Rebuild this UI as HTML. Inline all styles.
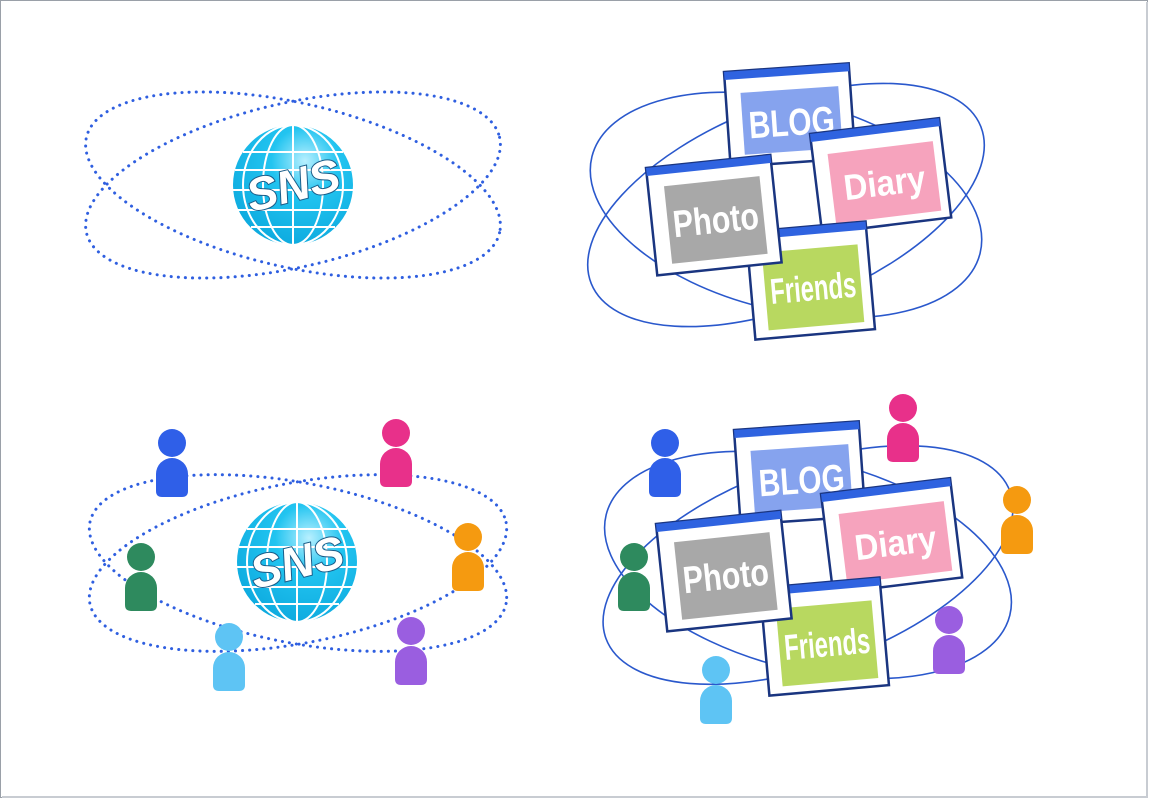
<!DOCTYPE html>
<html><head><meta charset="utf-8"><style>
html,body{margin:0;padding:0;background:#fff;}
svg{display:block}
text{font-family:"Liberation Sans",sans-serif;font-weight:bold;fill:#fff}
</style></head><body>
<svg width="1149" height="799" viewBox="0 0 1149 799" xmlns="http://www.w3.org/2000/svg">
<defs>
<radialGradient id="gl" cx="0.6" cy="0.3" r="0.8">
<stop offset="0" stop-color="#b8f0ff"/><stop offset="0.35" stop-color="#22c4f0"/><stop offset="1" stop-color="#0aa6dc"/>
</radialGradient>
<g id="globe">
<circle r="60" fill="url(#gl)"/>
<g fill="none" stroke="#fff" stroke-width="2">
<ellipse rx="30" ry="60"/><line x1="0" y1="-60" x2="0" y2="60"/>
<ellipse rx="50" ry="60"/>
<line x1="-58" y1="-15" x2="58" y2="-15"/><line x1="-60" y1="5" x2="60" y2="5"/>
<line x1="-56" y1="25" x2="56" y2="25"/><line x1="-50" y1="-33" x2="50" y2="-33"/>
<line x1="-42" y1="42" x2="42" y2="42"/>
</g>
<text x="0" y="16" text-anchor="middle" font-size="46" font-style="italic" transform="rotate(-14)" stroke="#1a5c88" stroke-width="2" style="paint-order:stroke">SNS</text>
</g>
<g id="pb"><circle cx="0" cy="0" r="14"/><path d="M-16 54 V31 A16 16 0 0 1 16 31 V48 Q16 54 10 54 H-10 Q-16 54 -16 48 Z"/></g>
</defs>
<rect x="0.5" y="0.5" width="1147" height="797" fill="#fff" stroke="#9aa0a8"/>
<line x1="1147" y1="2" x2="1147" y2="798" stroke="#c8ccd2" stroke-width="2"/>
<line x1="2" y1="797" x2="1148" y2="797" stroke="#c8ccd2" stroke-width="2"/>

<g fill="none" stroke="#2f5fe0" stroke-width="3" stroke-dasharray="0.1 7" stroke-linecap="round">
<ellipse cx="293" cy="185" rx="212" ry="82" transform="rotate(13 293 185)"/>
<ellipse cx="293" cy="185" rx="212" ry="82" transform="rotate(-13 293 185)"/>
<ellipse cx="298" cy="563" rx="212" ry="80" transform="rotate(11 298 563)"/>
<ellipse cx="298" cy="563" rx="212" ry="80" transform="rotate(-11 298 563)"/>
</g>
<use href="#globe" x="293" y="185"/>
<use href="#globe" x="297" y="562"/>

<g fill="none" stroke="#2a58cc" stroke-width="1.6">
<ellipse cx="786" cy="205" rx="210" ry="100" transform="rotate(-22 786 205)"/>
<ellipse cx="786" cy="205" rx="200" ry="105" transform="rotate(14 786 205)"/>
<ellipse cx="808" cy="565" rx="215" ry="100" transform="rotate(-20 808 565)"/>
<ellipse cx="808" cy="565" rx="208" ry="105" transform="rotate(14 808 565)"/>
</g>

<g stroke="#1a3580" stroke-width="2.5">
<g transform="translate(724,72) rotate(-4)"><rect width="125" height="95" fill="#fff"/><rect width="125" height="8" fill="#2f63e0" stroke="none"/><rect x="15" y="22" width="98" height="62" fill="#86a3ee" stroke="none"/><text x="64" y="68" font-size="38" text-anchor="middle" stroke="none" textLength="86" lengthAdjust="spacingAndGlyphs">BLOG</text></g>
<g transform="translate(810,134) rotate(-7)"><rect width="130" height="100" fill="#fff"/><rect width="130" height="8" fill="#2f63e0" stroke="none"/><rect x="15" y="22" width="106" height="70" fill="#f6a3bd" stroke="none"/><text x="68" y="70" font-size="36" text-anchor="middle" stroke="none" textLength="82" lengthAdjust="spacingAndGlyphs">Diary</text></g>
<g transform="translate(746,232) rotate(-5)"><rect width="120" height="108" fill="#fff"/><rect width="120" height="8" fill="#2f63e0" stroke="none"/><rect x="14" y="22" width="96" height="78" fill="#b8d860" stroke="none"/><text x="62" y="74" font-size="36" text-anchor="middle" stroke="none" textLength="86" lengthAdjust="spacingAndGlyphs">Friends</text></g>
<g transform="translate(646,168) rotate(-6)"><rect width="125" height="108" fill="#fff"/><rect width="125" height="8" fill="#2f63e0" stroke="none"/><rect x="16" y="20" width="96" height="78" fill="#a8a8a8" stroke="none"/><text x="64" y="72" font-size="38" text-anchor="middle" stroke="none" textLength="86" lengthAdjust="spacingAndGlyphs">Photo</text></g>

<g transform="translate(734,430) rotate(-4)"><rect width="125" height="95" fill="#fff"/><rect width="125" height="8" fill="#2f63e0" stroke="none"/><rect x="15" y="22" width="98" height="62" fill="#86a3ee" stroke="none"/><text x="64" y="68" font-size="38" text-anchor="middle" stroke="none" textLength="86" lengthAdjust="spacingAndGlyphs">BLOG</text></g>
<g transform="translate(821,494) rotate(-7)"><rect width="130" height="100" fill="#fff"/><rect width="130" height="8" fill="#2f63e0" stroke="none"/><rect x="15" y="22" width="106" height="70" fill="#f6a3bd" stroke="none"/><text x="68" y="70" font-size="36" text-anchor="middle" stroke="none" textLength="82" lengthAdjust="spacingAndGlyphs">Diary</text></g>
<g transform="translate(760,588) rotate(-5)"><rect width="120" height="108" fill="#fff"/><rect width="120" height="8" fill="#2f63e0" stroke="none"/><rect x="14" y="22" width="96" height="78" fill="#b8d860" stroke="none"/><text x="62" y="74" font-size="36" text-anchor="middle" stroke="none" textLength="86" lengthAdjust="spacingAndGlyphs">Friends</text></g>
<g transform="translate(656,524) rotate(-6)"><rect width="125" height="108" fill="#fff"/><rect width="125" height="8" fill="#2f63e0" stroke="none"/><rect x="16" y="20" width="96" height="78" fill="#a8a8a8" stroke="none"/><text x="64" y="72" font-size="38" text-anchor="middle" stroke="none" textLength="86" lengthAdjust="spacingAndGlyphs">Photo</text></g>
</g>

<use href="#pb" x="172" y="443" fill="#2f5fe8"/>
<use href="#pb" x="396" y="433" fill="#e8308a"/>
<use href="#pb" x="468" y="537" fill="#f59a10"/>
<use href="#pb" x="141" y="557" fill="#2e8a5e"/>
<use href="#pb" x="229" y="637" fill="#5ec4f4"/>
<use href="#pb" x="411" y="631" fill="#9a5ee0"/>
<use href="#pb" x="665" y="443" fill="#2f5fe8"/>
<use href="#pb" x="903" y="408" fill="#e8308a"/>
<use href="#pb" x="1017" y="500" fill="#f59a10"/>
<use href="#pb" x="634" y="557" fill="#2e8a5e"/>
<use href="#pb" x="716" y="670" fill="#5ec4f4"/>
<use href="#pb" x="949" y="620" fill="#9a5ee0"/>
</svg>
</body></html>
